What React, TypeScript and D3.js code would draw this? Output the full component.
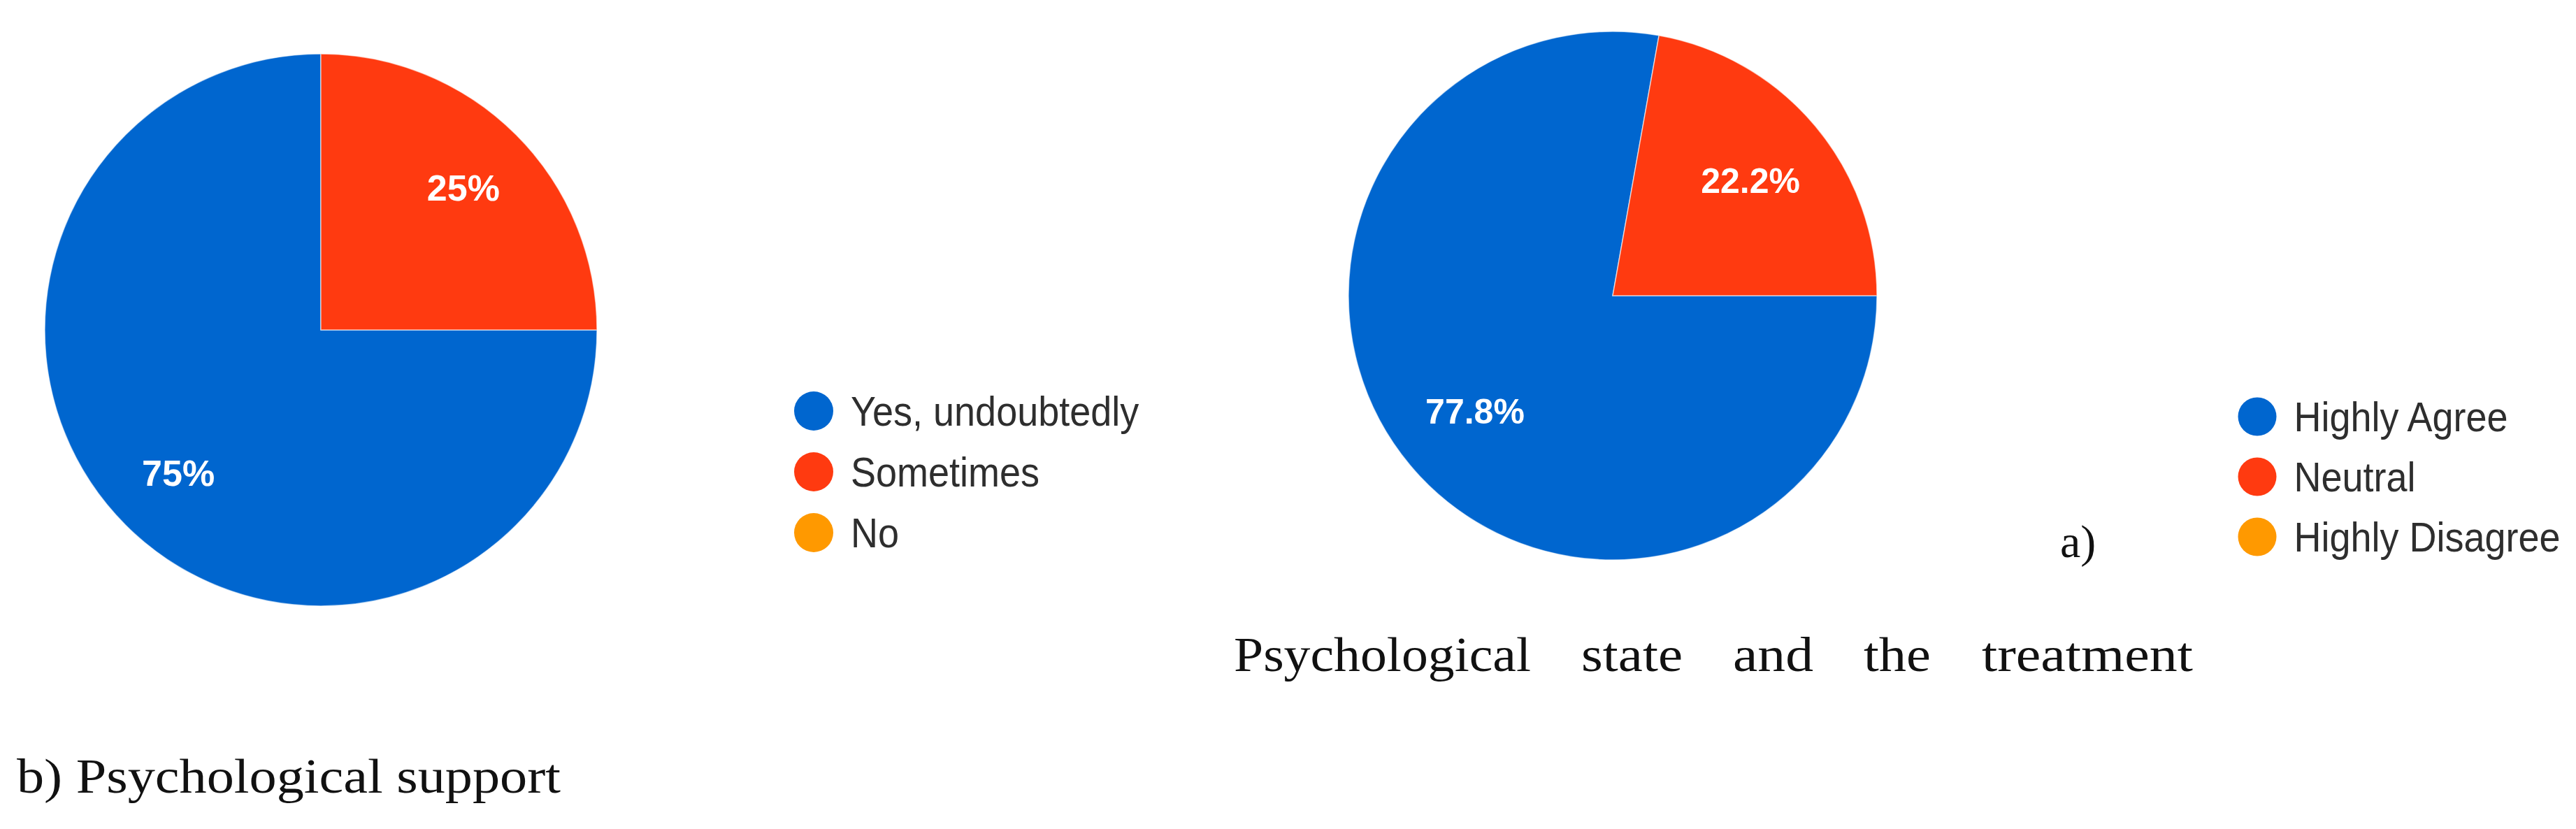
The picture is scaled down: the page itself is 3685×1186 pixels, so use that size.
import React from "react";
import * as d3 from "d3";

// Survey answers for the two questions
const supportCategories = ["Yes, undoubtedly", "Sometimes", "No"];
const supportValues = [75, 25, 0];
const supportLabels = ["75%", "25%", ""];

const stateCategories = ["Highly Agree", "Neutral", "Highly Disagree"];
const stateValues = [77.8, 22.2, 0];
const stateLabels = ["77.8%", "22.2%", ""];

const sliceColors = ["#0066CF", "#FF3A10", "#FF9900"];

const captionB = "b) Psychological support";
const captionAWords = ["Psychological", "state", "and", "the", "treatment"];
const panelTag = "a)";

const W = 3685;
const H = 1186;
const SANS = "'Liberation Sans', Arial, Helvetica, sans-serif";
const SERIF = "'Liberation Serif', 'Times New Roman', serif";

type PieProps = {
  cx: number;
  cy: number;
  r: number;
  values: number[];
  labels: string[];
  labelFrac: number;
  fontSize: number;
};

function Pie({ cx, cy, r, values, labels, labelFrac, fontSize }: PieProps) {
  const pie = d3
    .pie<number>()
    .sort(null)
    .value((d) => d)
    .startAngle(Math.PI / 2)
    .endAngle(Math.PI / 2 + 2 * Math.PI);
  const arcs = pie(values);
  const arc = d3.arc<d3.PieArcDatum<number>>().innerRadius(0).outerRadius(r);
  const labelArc = d3
    .arc<d3.PieArcDatum<number>>()
    .innerRadius(r * labelFrac)
    .outerRadius(r * labelFrac);
  return (
    <g transform={`translate(${cx},${cy})`}>
      {arcs.map((a, i) =>
        a.endAngle - a.startAngle > 0 ? (
          <path
            key={i}
            d={arc(a) || ""}
            fill={sliceColors[i]}
            stroke="#ffffff"
            strokeWidth={1.5}
            strokeOpacity={0.6}
          />
        ) : null
      )}
      {arcs.map((a, i) => {
        if (!labels[i]) return null;
        const [lx, ly] = labelArc.centroid(a);
        return (
          <text
            key={i}
            x={lx}
            y={ly}
            dy="0.36em"
            textAnchor="middle"
            fill="#ffffff"
            fontFamily={SANS}
            fontWeight="bold"
            fontSize={fontSize}
          >
            {labels[i]}
          </text>
        );
      })}
    </g>
  );
}

type LegendProps = {
  x: number;
  y0: number;
  step: number;
  r: number;
  items: string[];
  fontSize: number;
};

function Legend({ x, y0, step, r, items, fontSize }: LegendProps) {
  const yScale = d3
    .scalePoint<string>()
    .domain(items)
    .range([y0, y0 + step * (items.length - 1)]);
  return (
    <g>
      {items.map((name, i) => {
        const y = yScale(name) as number;
        return (
          <g key={name}>
            <circle cx={x} cy={y} r={r} fill={sliceColors[i]} />
            <text
              transform={`translate(${x + r + 25},${y}) scale(1,1.1)`}
              dy="0.36em"
              fill="#2e2e2e"
              fontFamily={SANS}
              fontSize={fontSize}
            >
              {name}
            </text>
          </g>
        );
      })}
    </g>
  );
}

// Justified caption: words spread between a left and right edge
const captionWordSpans: [number, number][] = [
  [1765, 2190],
  [2262, 2407],
  [2479, 2594],
  [2666, 2762],
  [2835, 3137],
];

export default function App() {
  return (
    <svg
      width={W}
      height={H}
      viewBox={`0 0 ${W} ${H}`}
      style={{ position: "absolute", left: 0, top: 0, background: "#ffffff" }}
    >
      <rect width={W} height={H} fill="#ffffff" />

      <Pie
        cx={459}
        cy={472}
        r={395}
        values={supportValues}
        labels={supportLabels}
        labelFrac={0.73}
        fontSize={52}
      />
      <Legend x={1164} y0={588} step={87} r={28} items={supportCategories} fontSize={54} />

      <Pie
        cx={2307}
        cy={423}
        r={378}
        values={stateValues}
        labels={stateLabels}
        labelFrac={0.68}
        fontSize={50}
      />
      <Legend x={3229} y0={596} step={86} r={27.5} items={stateCategories} fontSize={54} />

      <text x={2947} y={797} fontFamily={SERIF} fontSize={66} fill="#111">
        {panelTag}
      </text>

      {captionAWords.map((w, i) => (
        <text
          key={w}
          x={captionWordSpans[i][0]}
          y={960}
          fontFamily={SERIF}
          fontSize={70}
          fill="#111"
          textLength={captionWordSpans[i][1] - captionWordSpans[i][0]}
          lengthAdjust="spacingAndGlyphs"
        >
          {w}
        </text>
      ))}

      <text
        x={24}
        y={1134}
        fontFamily={SERIF}
        fontSize={70}
        fill="#111"
        textLength={778}
        lengthAdjust="spacingAndGlyphs"
      >
        {captionB}
      </text>
    </svg>
  );
}
